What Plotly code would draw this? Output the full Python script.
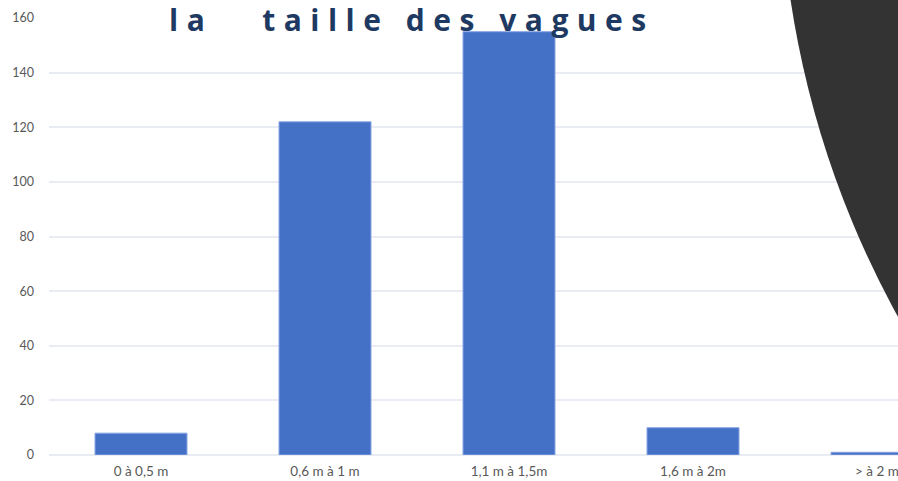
import plotly.graph_objects as go

categories = ["0 à 0,5 m", "0,6 m à 1 m", "1,1 m à 1,5m", "1,6 m à 2m", "> à 2 m"]
counts = [8, 122, 155, 10, 1]
y_ticks = [0, 20, 40, 60, 80, 100, 120, 140, 160]

W, H = 898, 481
# plot area in window pixels: x 49..898, y 18..455
L, R, T, B = 49, 0, 18, 481 - 455
pw, ph = W - L - R, H - T - B

def px(x):
    return (x - L) / pw

def py(y):
    return (H - B - y) / ph

fig = go.Figure()
fig.add_trace(go.Bar(
    x=categories, y=counts, width=0.5,
    marker=dict(color="#4471c6", line=dict(color="#8aa6e2", width=1)),
    showlegend=False,
))

# dark decorative circle at top right
cx, cy, r = 1727, -141, 947
fig.add_shape(type="circle", xref="paper", yref="paper",
              x0=px(cx - r), x1=px(cx + r), y0=py(cy + r), y1=py(cy - r),
              fillcolor="#333333", line=dict(width=0), layer="above")

fig.add_annotation(
    xref="paper", yref="paper", x=px(412), y=py(20),
    xanchor="center", yanchor="middle", showarrow=False,
    text='<span style="letter-spacing:8.5px"><b>la\u00a0\u00a0 taille des vagues</b></span>',
    font=dict(family="Open Sans", size=30, color="#1e3a62"),
)

fig.update_layout(
    width=W, height=H,
    margin=dict(l=L, r=R, t=T, b=B),
    paper_bgcolor="white", plot_bgcolor="white",
    font=dict(family="Lato", color="#595959"),
    xaxis=dict(range=[-0.5, -0.5 + pw / 184], showgrid=False, showline=False,
               ticks="", ticklabelstandoff=6,
               tickfont=dict(size=13.5, color="#595959"), fixedrange=True),
    yaxis=dict(range=[0, 160], tickvals=y_ticks, showgrid=True, gridcolor="#e9edf3",
               gridwidth=1.5, zeroline=True, zerolinecolor="#e9edf3", zerolinewidth=1.5,
               showline=False, ticklabelstandoff=14,
               tickfont=dict(size=12.5, color="#595959")),
    bargap=0.5,
)

fig.write_html(
    "out.html",
    config={"displayModeBar": False},
    post_script="document.body.style.margin='0';document.body.style.overflow='hidden';",
)
